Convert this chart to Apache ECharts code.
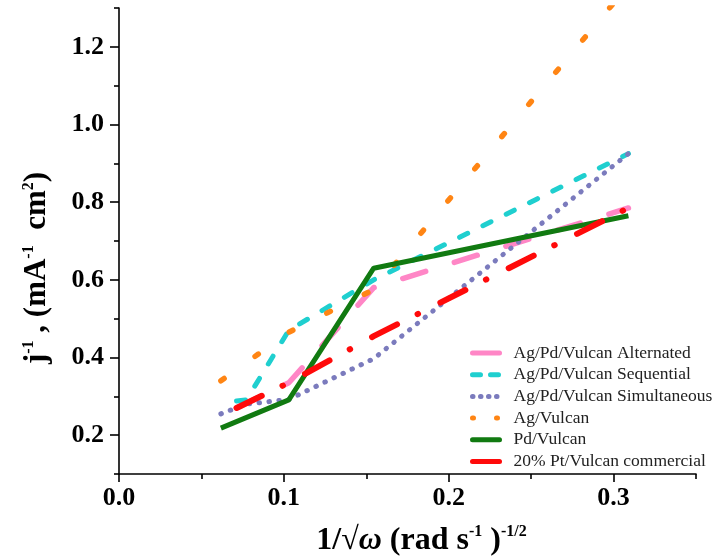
<!DOCTYPE html>
<html>
<head>
<meta charset="utf-8">
<script src="https://cdn.jsdelivr.net/npm/echarts@6/dist/echarts.min.js"></script>
<style>
html,body{margin:0;padding:0;background:#fff;}
#chart{width:715px;height:558px;}
</style>
</head>
<body>
<div id="chart"></div>
<script>
// ---- data ----
const seriesNames = [
  'Ag/Pd/Vulcan Alternated',
  'Ag/Pd/Vulcan Sequential',
  'Ag/Pd/Vulcan Simultaneous',
  'Ag/Vulcan',
  'Pd/Vulcan',
  '20% Pt/Vulcan commercial'
];
const alternatedX = [0.0713, 0.103, 0.1545, 0.309];
const alternatedY = [0.270, 0.335, 0.580, 0.785];
const sequentialX = [0.0713, 0.0773, 0.103, 0.1545, 0.309];
const sequentialY = [0.288, 0.291, 0.470, 0.600, 0.925];
const simultaneousX = [0.0618, 0.0773, 0.103, 0.1545, 0.309];
const simultaneousY = [0.255, 0.280, 0.292, 0.397, 0.925];
const agX = [0.0618, 0.103, 0.1545, 0.309];
const agY = [0.340, 0.465, 0.575, 1.358];
const pdX = [0.0618, 0.103, 0.1545, 0.309];
const pdY = [0.218, 0.291, 0.630, 0.765];
const ptX = [0.0713, 0.103, 0.1545, 0.309];
const ptY = [0.270, 0.335, 0.455, 0.785];
const xMajorTicks = [0, 0.1, 0.2, 0.3];
const xMinorTicks = [0.05, 0.15, 0.25, 0.35];
const yMajorTicks = [0.2, 0.4, 0.6, 0.8, 1.0, 1.2];
const yMinorTicks = [0.1, 0.3, 0.5, 0.7, 0.9, 1.1, 1.3];

function pairs(xs, ys) { return xs.map((x, i) => [x, ys[i]]); }

const FONT = '"Liberation Serif", "Times New Roman", serif';
const colors = ['#FF86C6', '#1FCFCF', '#7B7BBD', '#FF8514', '#117A11', '#FF0A0A'];
const styles = [
  { width: 5.5, type: [24, 30], cap: 'round' },
  { width: 5, type: [9, 17], cap: 'round' },
  { width: 5, type: [0.5, 9.5], cap: 'round' },
  { width: 5.5, type: [4, 38], cap: 'round' },
  { width: 5, type: 'solid', cap: 'butt' },
  { width: 6, type: [28, 23, 0.5, 25], cap: 'round' }
];
const legendStyles = [
  { type: 'solid' },
  { type: [8, 10] },
  { type: [0.5, 7.5] },
  { type: [1, 23] },
  { type: 'solid' },
  { type: 'solid' }
];
const dataSets = [
  pairs(alternatedX, alternatedY),
  pairs(sequentialX, sequentialY),
  pairs(simultaneousX, simultaneousY),
  pairs(agX, agY),
  pairs(pdX, pdY),
  pairs(ptX, ptY)
];

const chart = echarts.init(document.getElementById('chart'), null, { renderer: 'canvas' });

const supStyle = { fontFamily: FONT, fontWeight: 'bold', fontSize: 16, lineHeight: 16, verticalAlign: 'top', color: '#000' };

chart.setOption({
  animation: false,
  backgroundColor: '#fff',
  grid: { left: 119, right: 19, top: 8, bottom: 84, containLabel: false, outerBoundsMode: 'none' },
  legend: {
    orient: 'vertical',
    left: 465,
    top: 339,
    itemWidth: 27,
    itemHeight: 14,
    itemGap: 3.7,
    textStyle: { fontFamily: FONT, fontSize: 17.5, color: '#222', padding: [0, 0, 0, 9] },
    data: seriesNames.map((n, i) => ({
      name: n,
      itemStyle: { opacity: 0 },
      lineStyle: Object.assign({ color: colors[i], width: 5, cap: 'round' }, legendStyles[i])
    }))
  },
  xAxis: [
    {
      type: 'value', min: 0, max: 0.35, interval: 0.05, position: 'bottom',
      axisLine: { show: true, lineStyle: { color: '#000', width: 1.6 } },
      axisTick: { show: true, customValues: xMajorTicks, length: 8, lineStyle: { color: '#000', width: 1.6 } },
      axisLabel: { customValues: xMajorTicks, formatter: v => v.toFixed(1), margin: 11,
        fontFamily: FONT, fontWeight: 'bold', fontSize: 26, color: '#000' },
      splitLine: { show: false },
      name: '{b|1/√}{i|ω}{b| (rad s}{s|-1}{b| )}{s|-1/2}',
      nameLocation: 'middle', nameGap: 50,
      nameTextStyle: {
        padding: [0, 0, 0, 28],
        rich: {
          b: { fontFamily: FONT, fontWeight: 'bold', fontSize: 32, lineHeight: 34, color: '#000' },
          i: { fontFamily: FONT, fontWeight: 'bold', fontStyle: 'italic', fontSize: 32, lineHeight: 34, color: '#000' },
          s: supStyle
        }
      }
    },
    {
      type: 'value', min: 0, max: 0.35, interval: 0.05, position: 'bottom',
      axisLine: { show: false },
      axisTick: { show: true, customValues: xMinorTicks, length: 5, lineStyle: { color: '#000', width: 1.6 } },
      axisLabel: { show: false },
      splitLine: { show: false }
    }
  ],
  yAxis: [
    {
      type: 'value', min: 0.1, max: 1.3, interval: 0.1, position: 'left',
      axisLine: { show: true, lineStyle: { color: '#000', width: 1.6 } },
      axisTick: { show: true, customValues: yMajorTicks, length: 9, lineStyle: { color: '#000', width: 1.6 } },
      axisLabel: { customValues: yMajorTicks, formatter: v => v.toFixed(1), margin: 15,
        fontFamily: FONT, fontWeight: 'bold', fontSize: 26, color: '#000' },
      splitLine: { show: false },
      name: '{b|j}{s|-1}{b| , (mA}{s|-1}{b|  cm}{s|2}{b|)}',
      nameLocation: 'middle', nameGap: 66, nameRotate: 90,
      nameTextStyle: {
        padding: [0, 0, 0, -54],
        rich: {
          b: { fontFamily: FONT, fontWeight: 'bold', fontSize: 31, lineHeight: 32, color: '#000' },
          s: supStyle
        }
      }
    },
    {
      type: 'value', min: 0.1, max: 1.3, interval: 0.1, position: 'left',
      axisLine: { show: false },
      axisTick: { show: true, customValues: yMinorTicks, length: 5, lineStyle: { color: '#000', width: 1.6 } },
      axisLabel: { show: false },
      splitLine: { show: false }
    }
  ],
  series: dataSets.map((d, i) => ({
    name: seriesNames[i],
    type: 'line',
    xAxisIndex: 0,
    yAxisIndex: 0,
    data: d,
    symbol: 'none',
    clip: true,
    color: colors[i],
    lineStyle: Object.assign({ color: colors[i], join: 'round' }, styles[i]),
    z: 2 + i
  }))
});
</script>
</body>
</html>
